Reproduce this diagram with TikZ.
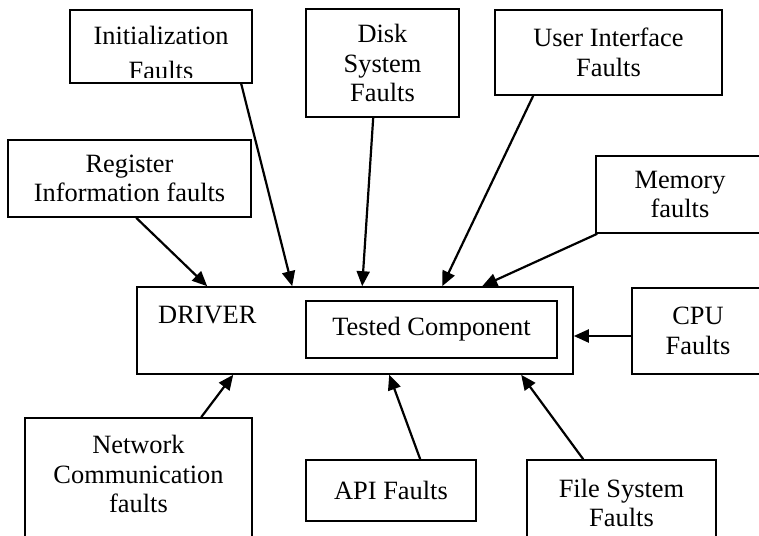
\documentclass[tikz,border=0pt]{standalone}
\usepackage{fontspec}
\setmainfont{Liberation Serif}
\usetikzlibrary{arrows.meta}

\tikzset{
  box/.style={draw, line width=1.6pt, rectangle, inner sep=0pt, align=center,
              font=\fontsize{26.4}{29.5}\selectfont},
  txt/.style={inner sep=0pt, align=center, font=\fontsize{26.4}{29.5}\selectfont},
  arr/.style={line width=2.2pt, -{Triangle[length=15pt,width=13pt]}}
}

\begin{document}
\begin{tikzpicture}[x=1pt,y=-1pt]
  \useasboundingbox (0,0) rectangle (759,535);
  \clip (0,0) rectangle (759,535);
  \fill[white] (0,0) rectangle (759,535);

  % fault sources above the driver
  \node[box, minimum width=182pt, minimum height=73pt] (init) at (161,46.5) {};
  \begin{scope}
    \clip (70,10) rectangle (252,77.5);
    \node[txt, anchor=base] (inittop) at (161,45) {Initialization};
    \node[txt, anchor=base] (initbot) at (161,79.5) {Faults};
  \end{scope}
  \node[box, minimum width=153pt, minimum height=108pt] (disk) at (382.5,63) {Disk\\System\\Faults};
  \node[box, minimum width=227pt, minimum height=85pt] (ui) at (608.5,52.5) {User Interface\\Faults};
  \node[box, minimum width=243pt, minimum height=77pt] (reg) at (129.5,178.5) {Register\\Information faults};
  \node[box, minimum width=168pt, minimum height=77pt] (mem) at (680,194.5) {Memory\\faults};

  % driver with the component under test
  \node[box, minimum width=436pt, minimum height=87pt] (driver) at (355,330.5) {};
  \node[txt, anchor=base west] (drvlabel) at (158,323) {DRIVER};
  \node[box, minimum width=251pt, minimum height=57pt] (tested) at (431.5,329.5) {Tested Component};
  \node[box, minimum width=132pt, minimum height=86pt] (cpu) at (698,331) {CPU\\Faults};

  % fault sources below the driver
  \node[box, minimum width=227pt, minimum height=127pt] (net) at (138.5,481.5) {};
  \node[txt] (nettext) at (138.5,474) {Network\\Communication\\faults};
  \node[box, minimum width=170pt, minimum height=61pt] (api) at (391,490.5) {API Faults};
  \node[box, minimum width=189pt, minimum height=85pt] (fs) at (621.5,502.5) {};
  \node[txt] (fstext) at (621.5,503) {File System\\Faults};

  % connectors into the driver
  \draw[arr] ([xshift=129pt]reg.south west) -- ([xshift=71pt]driver.north west);
  \draw[arr] ([xshift=172pt]init.south west) -- ([xshift=156pt]driver.north west);
  \draw[arr] ([xshift=68pt]disk.south west) -- ([xshift=226pt]driver.north west);
  \draw[arr] ([xshift=39pt]ui.south west) -- ([xshift=306pt]driver.north west);
  \draw[arr] ([xshift=2pt]mem.south west) -- ([xshift=346pt]driver.north west);
  \coordinate (cpuport) at ([yshift=-5pt]cpu.west);
  \draw[arr] (cpuport) -- (cpuport -| driver.east);
  \draw[arr] ([xshift=177pt]net.north west) -- ([xshift=97pt]driver.south west);
  \draw[arr] ([xshift=115pt]api.north west) -- ([xshift=253pt]driver.south west);
  \draw[arr] ([xshift=57pt]fs.north west) -- ([xshift=385pt]driver.south west);
\end{tikzpicture}
\end{document}
